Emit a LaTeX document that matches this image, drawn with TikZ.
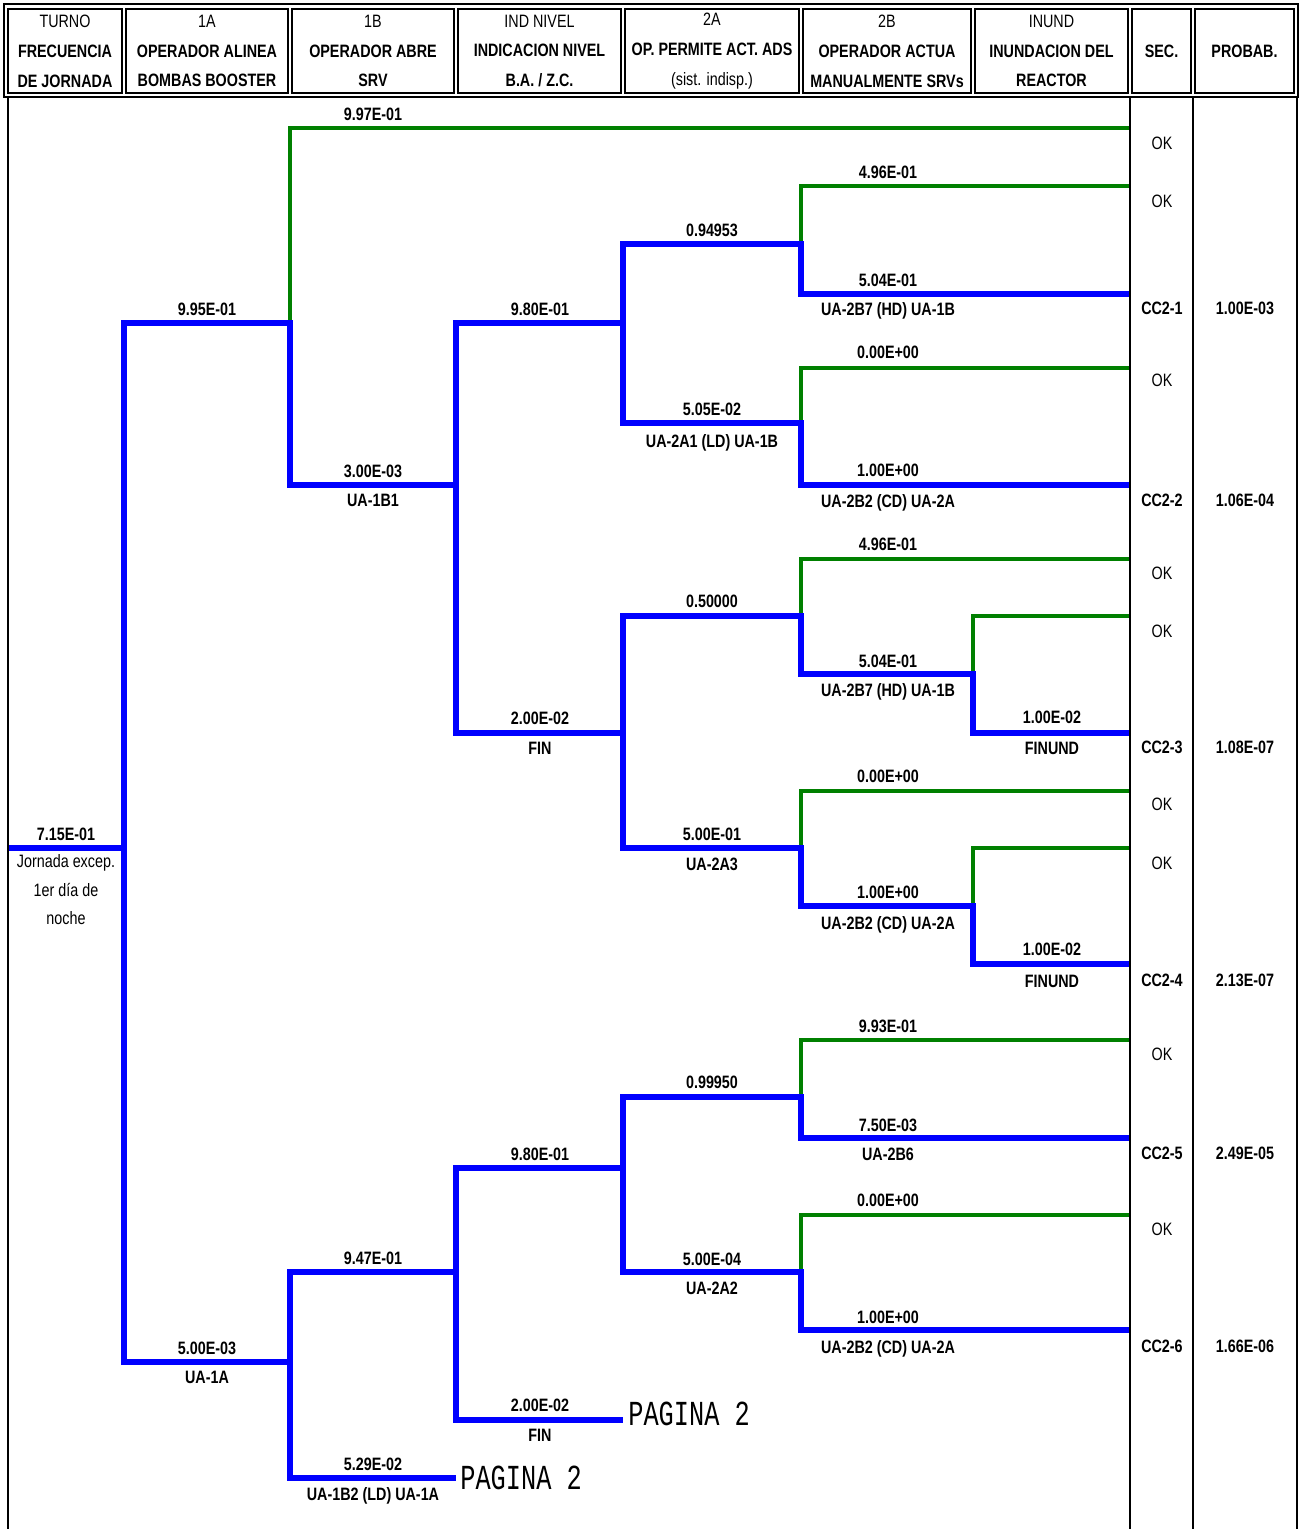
\documentclass[tikz,border=0pt]{standalone}
\usepackage{fontspec}
\setmainfont{Liberation Sans}[FakeStretch=0.8]
\newfontfamily\pagefont{Liberation Mono}[FakeStretch=0.72]
\usetikzlibrary{positioning}
\definecolor{okgreen}{RGB}{0,128,0}
\newcommand{\Tsize}{\fontsize{10.2}{17}\selectfont}
\newcommand{\Pag}[1]{{\pagefont\fontsize{20}{20}\selectfont #1}}
\tikzset{
    okline/.style={draw=okgreen, line width=2pt},
    failline/.style={draw=blue, line width=3.4pt, shorten <=-1.7pt},
    frame/.style={draw=black, line width=1.2pt},
    head/.style={draw, line width=0.8pt, minimum width=#1, minimum height=1.68cm,
        align=center, inner sep=0pt, font=\Tsize},
    prob/.style={anchor=base, inner sep=0pt, font=\Tsize\bfseries},
    seqok/.style={inner sep=0pt, font=\Tsize},
    seqcc/.style={inner sep=0pt, font=\Tsize\bfseries},
    pagina/.style={anchor=west, inner sep=0pt},
}
\begin{document}
\begin{tikzpicture}[x=0.02cm, y=-0.02cm]
    \useasboundingbox (0,0) rectangle (1301,1529);

    % header
    \node[head=2.28cm] (h0) at (65,51) {TURNO\\\textbf{FRECUENCIA}\\\textbf{DE JORNADA}};
    \node[head=3.24cm] (h1) at (207,51) {1A\\\textbf{OPERADOR ALINEA}\\\textbf{BOMBAS BOOSTER}};
    \node[head=3.24cm] (h2) at (373,51) {1B\\\textbf{OPERADOR ABRE}\\\textbf{SRV}};
    \node[head=3.26cm] (h3) at (539.5,51) {IND NIVEL\\\textbf{INDICACION NIVEL}\\\textbf{B.A. / Z.C.}};
    \node[head=3.48cm] (h4) at (712,51) {2A\\\textbf{OP. PERMITE ACT. ADS}\\(sist. indisp.)};
    \node[head=3.36cm] (h5) at (887,51) {2B\\\textbf{OPERADOR ACTUA}\\\textbf{MANUALMENTE SRVs}};
    \node[head=3.06cm] (h6) at (1051.5,51) {INUND\\\textbf{INUNDACION DEL}\\\textbf{REACTOR}};
    \node[head=1.18cm] (h7) at (1161.5,51) {\textbf{SEC.}};
    \node[head=1.98cm] (h8) at (1244.5,51) {\textbf{PROBAB.}};
    \draw[line width=1.4pt] (4,4) rectangle (1298,97);

    % branch points
    \coordinate (t0) at (8,848);
    \coordinate (s1A) at (124,848);
    \coordinate (s1B) at (290,323);
    \coordinate (u1B) at (290,1362);
    \coordinate (sIN) at (456,485);
    \coordinate (uIN) at (456,1272);
    \coordinate (uLD) at (456,1478);
    \coordinate (s2A) at (623,323);
    \coordinate (v2A) at (623,733);
    \coordinate (u2A) at (623,1168);
    \coordinate (uFIN) at (623,1420);
    \coordinate (s2B) at (801,244);
    \coordinate (t2B) at (801,423);
    \coordinate (v2B) at (801,616);
    \coordinate (w2B) at (801,848);
    \coordinate (u2B) at (801,1097);
    \coordinate (x2B) at (801,1272);
    \coordinate (vIU) at (973,674);
    \coordinate (wIU) at (973,906);

    % end points
    \coordinate (e1) at (1130,128);
    \coordinate (e2) at (1130,186);
    \coordinate (e3) at (1130,294);
    \coordinate (e4) at (1130,368);
    \coordinate (e5) at (1130,485);
    \coordinate (e6) at (1130,559);
    \coordinate (e7) at (1130,616);
    \coordinate (e8) at (1130,733);
    \coordinate (e9) at (1130,791);
    \coordinate (e10) at (1130,848);
    \coordinate (e11) at (1130,964);
    \coordinate (e12) at (1130,1040);
    \coordinate (e13) at (1130,1138);
    \coordinate (e14) at (1130,1215);
    \coordinate (e15) at (1130,1330);

    % success branches
    \draw[okline] (s1B) |- (e1);
    \draw[okline] (s2B) |- (e2);
    \draw[okline] (t2B) |- (e4);
    \draw[okline] (v2B) |- (e6);
    \draw[okline] (vIU) |- (e7);
    \draw[okline] (w2B) |- (e9);
    \draw[okline] (wIU) |- (e10);
    \draw[okline] (u2B) |- (e12);
    \draw[okline] (x2B) |- (e14);

    % failure branches
    \draw[failline, shorten <=0pt] (t0) -- (s1A);
    \draw[failline] (s1A) |- (s1B);
    \draw[failline] (s1A) |- (u1B);
    \draw[failline] (s1B) |- (sIN);
    \draw[failline] (sIN) |- (s2A);
    \draw[failline] (sIN) |- (v2A);
    \draw[failline] (s2A) |- (s2B);
    \draw[failline] (s2A) |- (t2B);
    \draw[failline] (s2B) |- (e3);
    \draw[failline] (t2B) |- (e5);
    \draw[failline] (v2A) |- (v2B);
    \draw[failline] (v2A) |- (w2B);
    \draw[failline] (v2B) |- (vIU);
    \draw[failline] (vIU) |- (e8);
    \draw[failline] (w2B) |- (wIU);
    \draw[failline] (wIU) |- (e11);
    \draw[failline] (u1B) |- (uIN);
    \draw[failline] (u1B) |- (uLD);
    \draw[failline] (uIN) |- (u2A);
    \draw[failline] (uIN) |- (uFIN);
    \draw[failline] (u2A) |- (u2B);
    \draw[failline] (u2A) |- (x2B);
    \draw[failline] (u2B) |- (e13);
    \draw[failline] (x2B) |- (e15);

    % columns
    \draw[frame] (8,97) -- (8,1529);
    \draw[frame] (1130,97) -- (1130,1529);
    \draw[frame] (1193,97) -- (1193,1529);
    \draw[frame] (1297,97) -- (1297,1529);

    % labels
    \node[prob] (r0) at (66,840) {7.15E-01};
    \node[align=center, anchor=north, inner sep=0pt, font=\fontsize{10.2}{16.4}\selectfont]
        (rj) at (66,854) {Jornada excep.\\1er día de\\noche};
    \node[prob] (a1) at (207,315) {9.95E-01};
    \node[prob] (a2) at (207,1354) {5.00E-03};
    \node[prob] (a3) at (207,1383) {UA-1A};
    \node[prob] (b1) at (373,120) {9.97E-01};
    \node[prob] (b2) at (373,477) {3.00E-03};
    \node[prob] (b3) at (373,506) {UA-1B1};
    \node[prob] (b4) at (373,1264) {9.47E-01};
    \node[prob] (b5) at (373,1470) {5.29E-02};
    \node[prob] (b6) at (373,1500) {UA-1B2 (LD) UA-1A};
    \node[prob] (c1) at (540,315) {9.80E-01};
    \node[prob] (c2) at (540,724) {2.00E-02};
    \node[prob] (c3) at (540,754) {FIN};
    \node[prob] (c4) at (540,1160) {9.80E-01};
    \node[prob] (c5) at (540,1411) {2.00E-02};
    \node[prob] (c6) at (540,1441) {FIN};
    \node[prob] (d1) at (712,236) {0.94953};
    \node[prob] (d2) at (712,415) {5.05E-02};
    \node[prob] (d3) at (712,447) {UA-2A1 (LD) UA-1B};
    \node[prob] (d4) at (712,607) {0.50000};
    \node[prob] (d5) at (712,840) {5.00E-01};
    \node[prob] (d6) at (712,870) {UA-2A3};
    \node[prob] (d7) at (712,1088) {0.99950};
    \node[prob] (d8) at (712,1265) {5.00E-04};
    \node[prob] (d9) at (712,1294) {UA-2A2};
    \node[prob] (f1) at (888,178) {4.96E-01};
    \node[prob] (f2) at (888,286) {5.04E-01};
    \node[prob] (f3) at (888,315) {UA-2B7 (HD) UA-1B};
    \node[prob] (f4) at (888,358) {0.00E+00};
    \node[prob] (f5) at (888,476) {1.00E+00};
    \node[prob] (f6) at (888,507) {UA-2B2 (CD) UA-2A};
    \node[prob] (f7) at (888,550) {4.96E-01};
    \node[prob] (f8) at (888,667) {5.04E-01};
    \node[prob] (f9) at (888,696) {UA-2B7 (HD) UA-1B};
    \node[prob] (f10) at (888,782) {0.00E+00};
    \node[prob] (f11) at (888,898) {1.00E+00};
    \node[prob] (f12) at (888,929) {UA-2B2 (CD) UA-2A};
    \node[prob] (f13) at (888,1032) {9.93E-01};
    \node[prob] (f14) at (888,1131) {7.50E-03};
    \node[prob] (f15) at (888,1160) {UA-2B6};
    \node[prob] (f16) at (888,1206) {0.00E+00};
    \node[prob] (f17) at (888,1323) {1.00E+00};
    \node[prob] (f18) at (888,1353) {UA-2B2 (CD) UA-2A};
    \node[prob] (g1) at (1052,723) {1.00E-02};
    \node[prob] (g2) at (1052,754) {FINUND};
    \node[prob] (g3) at (1052,955) {1.00E-02};
    \node[prob] (g4) at (1052,987) {FINUND};

    \node[pagina, right=0.1cm of uFIN, yshift=0.12cm] (pg1) {\Pag{PAGINA 2}};
    \node[pagina, right=0.08cm of uLD] (pg2) {\Pag{PAGINA 2}};

    % sequences
    \node[seqok] (k1) at (1162,143) {OK};
    \node[seqok] (k2) at (1162,201) {OK};
    \node[seqcc] (k3) at (1162,308) {CC2-1};
    \node[seqok] (k4) at (1162,380) {OK};
    \node[seqcc] (k5) at (1162,500) {CC2-2};
    \node[seqok] (k6) at (1162,573) {OK};
    \node[seqok] (k7) at (1162,631) {OK};
    \node[seqcc] (k8) at (1162,747) {CC2-3};
    \node[seqok] (k9) at (1162,804) {OK};
    \node[seqok] (k10) at (1162,863) {OK};
    \node[seqcc] (k11) at (1162,980) {CC2-4};
    \node[seqok] (k12) at (1162,1054) {OK};
    \node[seqcc] (k13) at (1162,1153) {CC2-5};
    \node[seqok] (k14) at (1162,1229) {OK};
    \node[seqcc] (k15) at (1162,1346) {CC2-6};

    \node[seqcc] (p3) at (1245,308) {1.00E-03};
    \node[seqcc] (p5) at (1245,500) {1.06E-04};
    \node[seqcc] (p8) at (1245,747) {1.08E-07};
    \node[seqcc] (p11) at (1245,980) {2.13E-07};
    \node[seqcc] (p13) at (1245,1153) {2.49E-05};
    \node[seqcc] (p15) at (1245,1346) {1.66E-06};
\end{tikzpicture}
\end{document}
